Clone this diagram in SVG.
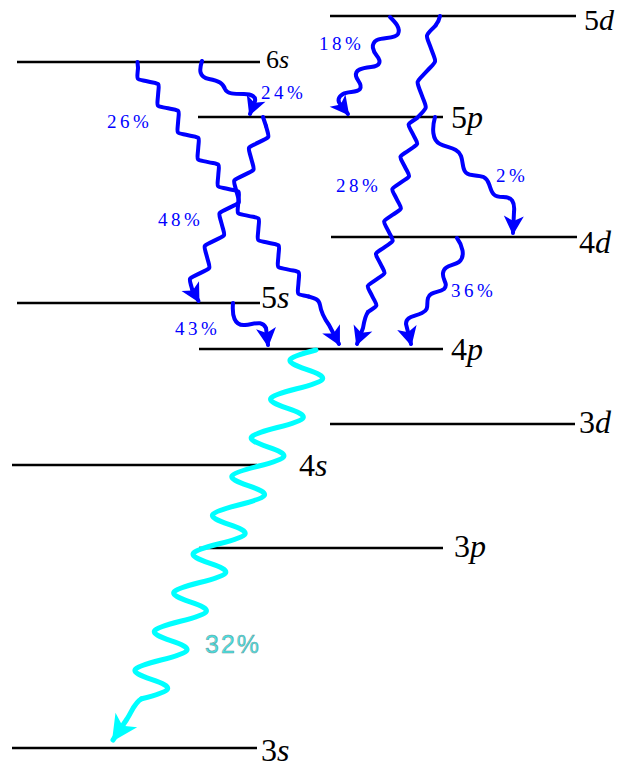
<svg xmlns="http://www.w3.org/2000/svg" width="621" height="767" viewBox="0 0 621 767">
<style>
.lvl{stroke:#000;stroke-width:2.4;fill:none}
.lbl{font-family:"Liberation Serif","Times New Roman",serif;font-size:32px;fill:#000}
.it{font-style:italic}
.pct{font-family:"Liberation Serif","Times New Roman",serif;font-size:19px;fill:#0000ff;letter-spacing:3.5px}
.w{fill:none;stroke:#0000ff;stroke-width:4;stroke-linecap:round;stroke-linejoin:round}
.wa{marker-end:url(#ah)}
.c{fill:none;stroke:#00ffff;stroke-width:5;stroke-linecap:round;stroke-linejoin:round}
</style>
<defs>
<marker id="ah" markerUnits="userSpaceOnUse" viewBox="-20 -12 24 24" markerWidth="24" markerHeight="24" refX="0" refY="0" orient="auto"><path d="M2,0 L-17,-10 L-12,0 L-17,10 Z" fill="#0000ff"/></marker>
<marker id="ahc" markerUnits="userSpaceOnUse" viewBox="-26 -15 30 30" markerWidth="30" markerHeight="30" refX="0" refY="0" orient="auto"><path d="M2,0 L-24,-13 L-17,0 L-24,13 Z" fill="#00ffff"/></marker>
</defs>

<g id="levels">
<g id="lvl-5d"><line class="lvl" x1="330" y1="16" x2="576" y2="16"/><text class="lbl" x="584" y="30" style="font-size:30px">5<tspan class="it">d</tspan></text></g>
<g id="lvl-6s"><line class="lvl" x1="17" y1="62" x2="260" y2="62"/><text class="lbl" x="266" y="68" style="font-size:26px">6<tspan class="it">s</tspan></text></g>
<g id="lvl-5p"><line class="lvl" x1="198" y1="117" x2="443" y2="117"/><text class="lbl" x="451" y="128">5<tspan class="it">p</tspan></text></g>
<g id="lvl-4d"><line class="lvl" x1="331" y1="237" x2="577" y2="237"/><text class="lbl" x="579" y="253">4<tspan class="it">d</tspan></text></g>
<g id="lvl-5s"><line class="lvl" x1="17" y1="303" x2="260" y2="303"/><text class="lbl" x="261" y="308">5<tspan class="it">s</tspan></text></g>
<g id="lvl-4p"><line class="lvl" x1="199" y1="349" x2="443" y2="349"/><text class="lbl" x="451" y="360">4<tspan class="it">p</tspan></text></g>
<g id="lvl-3d"><line class="lvl" x1="330" y1="424" x2="575" y2="424"/><text class="lbl" x="579" y="433">3<tspan class="it">d</tspan></text></g>
<g id="lvl-4s"><line class="lvl" x1="12" y1="465" x2="257" y2="465"/><text class="lbl" x="299" y="476">4<tspan class="it">s</tspan></text></g>
<g id="lvl-3p"><line class="lvl" x1="199" y1="548" x2="443" y2="548"/><text class="lbl" x="454" y="557">3<tspan class="it">p</tspan></text></g>
<g id="lvl-3s"><line class="lvl" x1="12" y1="748" x2="257" y2="748"/><text class="lbl" x="261" y="761">3<tspan class="it">s</tspan></text></g>
</g>

<g id="connectors">
<g id="t-6s-4p">
<path class="w" d="M137.5,62 L138,68"/>
<path class="w" transform="translate(138,68) rotate(53.27)" d="M0,0 c10.06,8.67 6.71,8.67 16.77,0 s6.71,-8.67 16.77,0 s6.71,8.67 16.77,0 s6.71,-8.67 16.77,0 s6.71,8.67 16.77,0 s6.71,-8.67 16.77,0 s6.71,8.67 16.77,0 s6.71,-8.67 16.77,0 s6.71,8.67 16.77,0 s6.71,-8.67 16.77,0 s6.71,8.67 16.77,0 s6.71,-8.67 16.77,0 s6.71,8.67 16.77,0 s6.71,-8.67 16.77,0 s6.71,8.67 16.77,0 s6.71,-8.67 16.77,0 s6.71,8.67 16.77,0"/>
<path class="w wa" d="M308.5,296.5 C314,298 319,299 320,305 C321,312 324,318 329,325 L339,344"/>
</g>
<path id="t-6s-5p" class="w wa" d="M202,61 C199,70 199,77 209,79 C219,81 223,83 225,89 C227,94 234,94 244,94 C252,94 256,97 255,101 L250,114"/>
<path id="t-5d-5p" class="w wa" d="M390,17 C395,22 401,28 398,34 C395,39 384,37 377,40 C370,44 373,51 377,56 C381,61 381,66 371,67 C361,68 355,70 356,76 C357,81 363,84 360,89 C357,93 348,91 343,94 C338,97 337,101 341,105 L348,114"/>
<g id="t-5d-4p">
<path class="w" d="M440,16 Q439,21 435.7,25.3"/>
<path class="w" transform="translate(435.7,25.3) rotate(101.4)" d="M0,0 c14.18,8.67 9.46,8.67 23.64,0 s9.46,-8.67 23.64,0 s9.46,8.67 23.64,0 s9.46,-8.67 23.64,0"/>
<path class="w" transform="translate(417,118) rotate(104.18)" d="M0,0 c10,8.67 6.67,8.67 16.67,0 s6.67,-8.67 16.67,0 s6.67,8.67 16.67,0 s6.67,-8.67 16.67,0 s6.67,8.67 16.67,0 s6.67,-8.67 16.67,0 s6.67,8.67 16.67,0 s6.67,-8.67 16.67,0 s6.67,8.67 16.67,0 s6.67,-8.67 16.67,0 s6.67,8.67 16.67,0 s6.67,-8.67 16.67,0"/>
<path class="w wa" d="M368,312 C365,316 364,322 363,328 L357,344"/>
</g>
<g id="t-5p-5s">
<path class="w" d="M263,117 L266,126"/>
<path class="w" transform="translate(266,126) rotate(114.24)" d="M0,0 c10.78,-8.67 7.18,-8.67 17.96,0 s7.18,8.67 17.96,0 s7.18,-8.67 17.96,0 s7.18,8.67 17.96,0 s7.18,-8.67 17.96,0 s7.18,8.67 17.96,0 s7.18,-8.67 17.96,0 s7.18,8.67 17.96,0 s7.18,-8.67 17.96,0 s7.18,8.67 17.96,0"/>
<path class="w wa" d="M192.3,289.8 L198.5,301"/>
</g>
<path id="t-5p-4d" class="w wa" d="M435,117 C432,128 432,140 440,144 C448,148 458,148 461,156 C464,164 461,174 472,175 C482,176 486,176 489,184 C492,192 492,197 503,197 C512,197 515,202 514,212 L513,233"/>
<path id="t-4d-4p" class="w wa" d="M457,238 C462,245 466,256 459,262 C453,266 444,265 443,273 C442,280 449,284 444,289 C439,293 430,291 428,298 C426,305 430,309 422,313 C414,317 406,316 406,324 L411,344"/>
<path id="t-5s-4p" class="w wa" d="M233,303 C232,315 234,326 245,325 C255,324 262,320 266,328 L268,345"/>
<g id="t-4p-3s">
<path class="c" vector-effect="non-scaling-stroke" transform="translate(316,350) skewX(-26.565)" d="M0,0 c-28,8.22 -28,11.15 0,19.375 s28,11.15 0,19.375 s-28,11.15 0,19.375 s28,11.15 0,19.375 s-28,11.15 0,19.375 s28,11.15 0,19.375 s-28,11.15 0,19.375 s28,11.15 0,19.375 s-28,11.15 0,19.375 s28,11.15 0,19.375 s-28,11.15 0,19.375 s28,11.15 0,19.375 s-28,11.15 0,19.375 s28,11.15 0,19.375 s-28,11.15 0,19.375 s28,11.15 0,19.375 s-28,11.15 0,19.375 s28,11.15 0,19.375"/>
<path class="c" style="marker-end:url(#ahc)" d="M141.6,698.8 C135,702 132,711 127,719 L113,740"/>
</g>

<g id="rates">
<text class="pct" x="319" y="50">18%</text>
<text class="pct" x="261" y="99">24%</text>
<text class="pct" x="107" y="128">26%</text>
<text class="pct" x="336" y="192">28%</text>
<text class="pct" x="496" y="182">2%</text>
<text class="pct" x="158" y="226">48%</text>
<text class="pct" x="451" y="297">36%</text>
<text class="pct" x="175" y="335">43%</text>
<text x="205" y="653" style="font-family:'Liberation Sans',Arial,sans-serif;font-size:25px;fill:#44e4e4;stroke:#6f9a9a;stroke-width:0.5px;letter-spacing:2px">32%</text>
</g>
</g>
</svg>
